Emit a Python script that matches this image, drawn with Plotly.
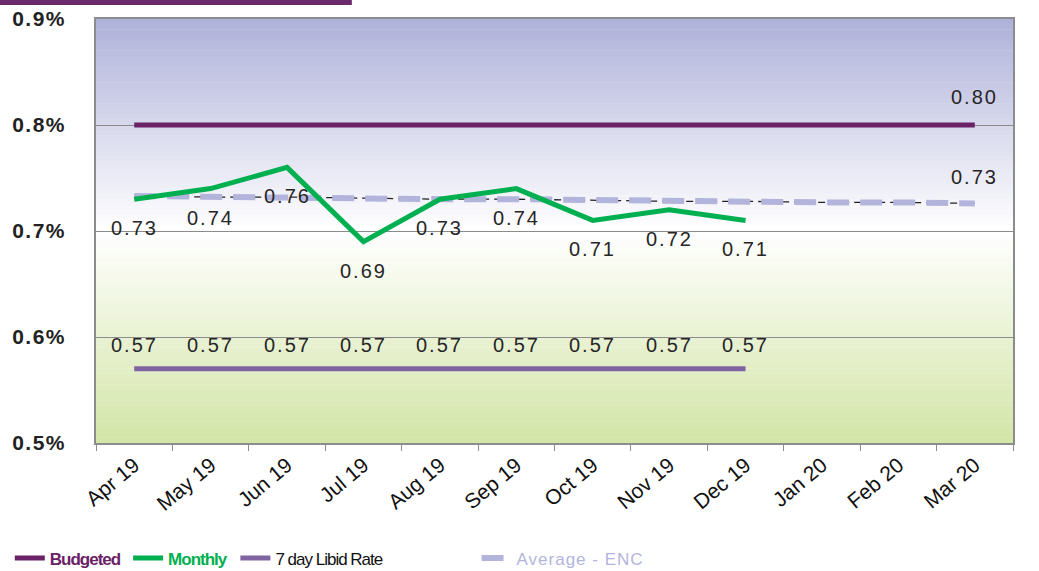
import plotly.graph_objects as go

# ---------------- data ----------------
months = ["Apr 19", "May 19", "Jun 19", "Jul 19", "Aug 19", "Sep 19",
          "Oct 19", "Nov 19", "Dec 19", "Jan 20", "Feb 20", "Mar 20"]
budgeted = [0.80, 0.80, 0.80, 0.80, 0.80, 0.80, 0.80, 0.80, 0.80, 0.80, 0.80, 0.80]
monthly = [0.73, 0.74, 0.76, 0.69, 0.73, 0.74, 0.71, 0.72, 0.71]
libid_7day = [0.57, 0.57, 0.57, 0.57, 0.57, 0.57, 0.57, 0.57, 0.57]
average_enc = [0.733, 0.732, 0.732, 0.731, 0.730, 0.730, 0.729, 0.728, 0.728, 0.727, 0.727, 0.726]
y_tick_vals = [0.5, 0.6, 0.7, 0.8, 0.9]
y_tick_text = ["0.5%", "0.6%", "0.7%", "0.8%", "0.9%"]

# ---------------- styles ----------------
C_BUDGET = "#6b2166"
C_MONTHLY = "#00b050"
C_LIBID = "#8064a2"
C_AVG = "#b3b4dc"
FONT = "Liberation Sans, Arial, sans-serif"
LABEL_FONT = dict(family=FONT, size=20, color="#262626")
LEG_FONT = "Liberation Sans Narrow, Arial Narrow, Liberation Sans, Arial, sans-serif"


def spaced(txt, px):
    return "<span style='letter-spacing:%spx'>%s</span>" % (px, txt)


fig = go.Figure()

# Average trend (thin black dashed underlay, no legend)
fig.add_trace(go.Scatter(x=months, y=average_enc, mode="lines",
                         line=dict(color="#222222", width=1.3, dash="7px,5px"),
                         showlegend=False, hoverinfo="skip"))
fig.add_trace(go.Scatter(x=months, y=average_enc, mode="lines",
                         name="<span style='color:%s;letter-spacing:1px'>Average - ENC</span>" % C_AVG,
                         line=dict(color=C_AVG, width=6, dash="22px,11px"),
                         legend="legend4"))
fig.add_trace(go.Scatter(x=months, y=budgeted, mode="lines",
                         name="<span style='color:%s;letter-spacing:-1px'><b>Budgeted</b></span>" % C_BUDGET,
                         line=dict(color=C_BUDGET, width=5), legend="legend"))
fig.add_trace(go.Scatter(x=months[:len(libid_7day)], y=libid_7day, mode="lines",
                         name="<span style='letter-spacing:-1px'>7 day Libid Rate</span>",
                         line=dict(color=C_LIBID, width=5), legend="legend3"))
fig.add_trace(go.Scatter(x=months[:len(monthly)], y=monthly, mode="lines",
                         name="<span style='color:%s;letter-spacing:-1px'><b>Monthly</b></span>" % C_MONTHLY,
                         line=dict(color=C_MONTHLY, width=5), legend="legend2"))

# ---------------- data labels ----------------
ann = []
for m, v in zip(months, monthly):
    ann.append(dict(x=m, y=v, text=spaced(f"{v:.2f}", 2), showarrow=False, yshift=-29, font=LABEL_FONT))
for m, v in zip(months, libid_7day):
    ann.append(dict(x=m, y=v, text=spaced(f"{v:.2f}", 2), showarrow=False, yshift=24, font=LABEL_FONT))
ann.append(dict(x=months[-1], y=budgeted[-1], text=spaced(f"{budgeted[-1]:.2f}", 2), showarrow=False,
                yshift=28, font=LABEL_FONT))
ann.append(dict(x=months[-1], y=average_enc[-1], text=spaced(f"{average_enc[-1]:.2f}", 2), showarrow=False,
                yshift=26, font=LABEL_FONT))

# ---------------- gradient background ----------------
def lerp(c1, c2, t):
    return "rgb(%d,%d,%d)" % tuple(round(a + (b - a) * t) for a, b in zip(c1, c2))

shapes = []
N = 40
top_col = (174, 177, 217)
white = (255, 255, 255)
bot_col = (211, 229, 167)
for i in range(N):
    t = (i + 0.5) / N
    shapes.append(dict(type="rect", xref="paper", yref="paper", x0=0, x1=1,
                       y0=0.5 + 0.5 * i / N, y1=0.5 + 0.5 * (i + 1) / N + 0.001,
                       fillcolor=lerp(white, top_col, t), line=dict(width=0), layer="below"))
    shapes.append(dict(type="rect", xref="paper", yref="paper", x0=0, x1=1,
                       y0=0.5 * i / N, y1=0.5 * (i + 1) / N + 0.001,
                       fillcolor=lerp(bot_col, white, t), line=dict(width=0), layer="below"))

# purple header bar remnant at the top-left
shapes.append(dict(type="rect", xref="paper", yref="paper", x0=-0.11, x1=0.279,
                   y0=1.033, y1=1.06, fillcolor="#6a2a6c", line=dict(width=0)))

legend_common = dict(orientation="h", yanchor="middle", y=-0.272, xanchor="left",
                     bgcolor="rgba(0,0,0,0)", borderwidth=0, itemwidth=30,
                     font=dict(family=LEG_FONT, size=17, color="#111111"))

fig.update_layout(
    width=1039, height=571,
    margin=dict(l=96, r=26, t=19, b=128, autoexpand=False),
    paper_bgcolor="white",
    plot_bgcolor="white",
    shapes=shapes,
    annotations=ann,
    legend=dict(x=-0.094, **legend_common),
    legend2=dict(x=0.035, **legend_common),
    legend3=dict(x=0.152, **legend_common),
    legend4=dict(x=0.415, **legend_common),
    xaxis=dict(type="category", range=[-0.5, 11.5], showgrid=False,
               showline=True, linecolor="#8c8c8c", linewidth=1.5, mirror=True,
               ticks="outside", tickson="boundaries", ticklen=6, tickcolor="#8c8c8c",
               tickangle=-40, automargin=False,
               tickfont=dict(family=FONT, size=21, color="#111111")),
    yaxis=dict(range=[0.5, 0.9], tickvals=y_tick_vals,
               ticktext=["<b><span style='letter-spacing:1.5px'>%s</span></b>" % t for t in y_tick_text],
               showgrid=True, gridcolor="#8c8c8c", gridwidth=1,
               showline=True, linecolor="#8c8c8c", linewidth=1.5, mirror=True,
               ticks="", ticklabelstandoff=24, zeroline=False, automargin=False,
               tickfont=dict(family=FONT, size=21, color="#222222")),
)

fig.write_html("out.html", config={"displayModeBar": False},
               post_script="document.body.style.margin='0';document.body.style.overflow='hidden';")
